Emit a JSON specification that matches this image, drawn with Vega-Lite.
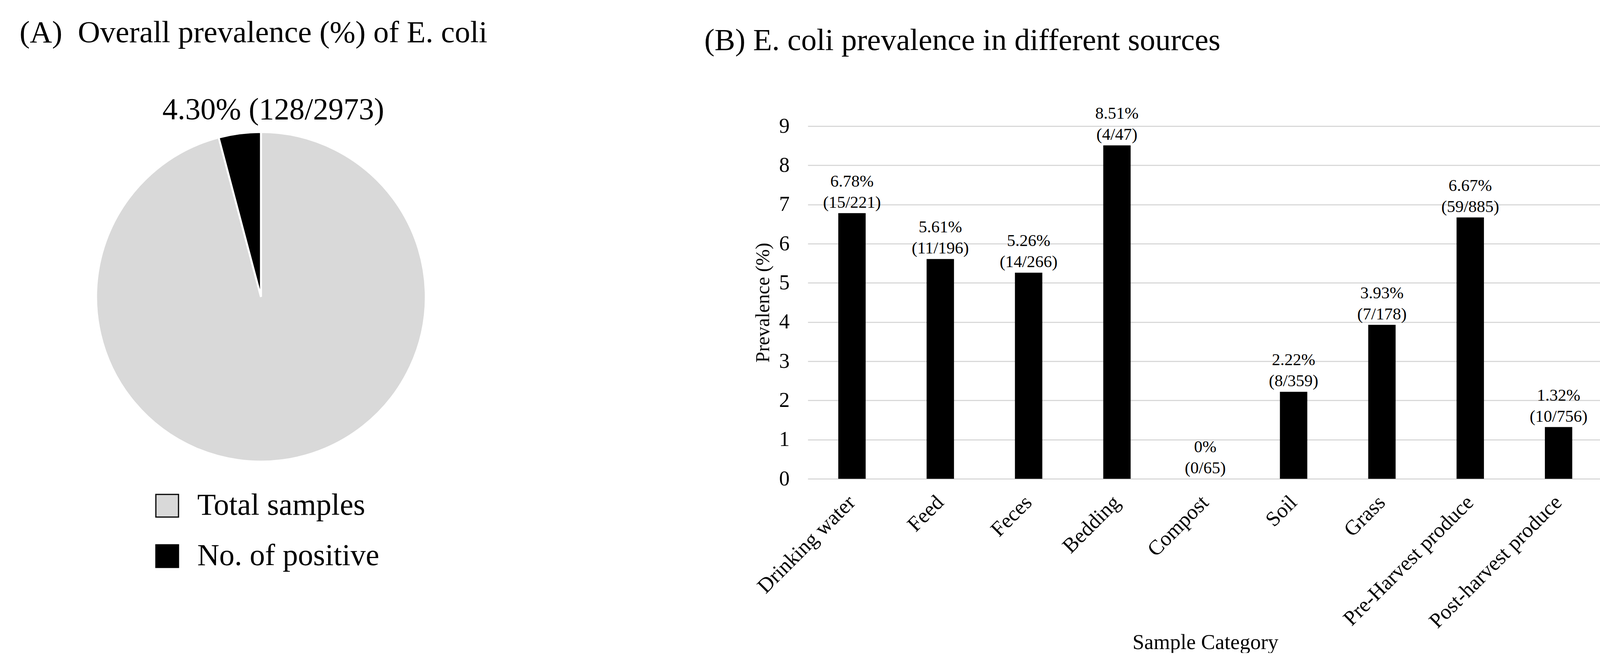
{
  "$schema": "https://vega.github.io/schema/vega-lite/v6.json",
  "background": "white",
  "padding": {"left": 50, "top": 45, "right": 9, "bottom": 0},
  "config": {"font": "Liberation Serif", "view": {"stroke": null}},
  "spacing": 517,
  "hconcat": [
    {
      "width": 1236,
      "height": 874,
      "title": {"text": "(A)\u00a0\u00a0Overall prevalence (%) of E. coli", "anchor": "start", "fontSize": 79, "fontWeight": "normal", "font": "Liberation Serif", "offset": 118, "color": "black"},
      "data": {"values": [
        {"category": "Total samples", "count": 2973, "label": ""},
        {"category": "No. of positive", "count": 128, "label": "4.30% (128/2973)"}
      ]},
      "encoding": {
        "theta": {"field": "count", "type": "quantitative", "stack": true},
        "order": {"field": "count", "type": "quantitative", "sort": "descending"}
      },
      "layer": [
        {
          "mark": {"type": "arc", "outerRadius": 422, "stroke": "white", "strokeWidth": 5},
          "encoding": {
            "fill": {
              "field": "category", "type": "nominal",
              "scale": {"domain": ["Total samples", "No. of positive"], "range": ["#d9d9d9", "#000000"]},
              "legend": {"title": null, "orient": "none", "legendX": 339, "legendY": 933, "direction": "vertical", "symbolType": "square", "symbolSize": 3364, "symbolStrokeColor": "black", "symbolStrokeWidth": 3, "labelFontSize": 78, "labelFont": "Liberation Serif", "labelColor": "black", "labelOffset": 38, "rowPadding": 51, "labelLimit": 0}
            }
          }
        },
        {
          "mark": {"type": "text", "radius": 482, "dx": 94, "fontSize": 78, "align": "center", "baseline": "middle", "color": "black", "font": "Liberation Serif"},
          "encoding": {"text": {"field": "label", "type": "nominal"}}
        }
      ]
    },
    {
      "width": 2035,
      "height": 903,
      "title": {"text": "(B) E. coli prevalence in different sources", "anchor": "start", "fontSize": 79, "fontWeight": "normal", "font": "Liberation Serif", "offset": 125, "dx": -125, "color": "black"},
      "data": {"values": [
        {"category": "Drinking water", "prevalence": 6.78, "label": "6.78%\n(15/221)"},
        {"category": "Feed", "prevalence": 5.61, "label": "5.61%\n(11/196)"},
        {"category": "Feces", "prevalence": 5.26, "label": "5.26%\n(14/266)"},
        {"category": "Bedding", "prevalence": 8.51, "label": "8.51%\n(4/47)"},
        {"category": "Compost", "prevalence": 0, "label": "0%\n(0/65)"},
        {"category": "Soil", "prevalence": 2.22, "label": "2.22%\n(8/359)"},
        {"category": "Grass", "prevalence": 3.93, "label": "3.93%\n(7/178)"},
        {"category": "Pre-Harvest produce", "prevalence": 6.67, "label": "6.67%\n(59/885)"},
        {"category": "Post-harvest produce", "prevalence": 1.32, "label": "1.32%\n(10/756)"}
      ]},
      "encoding": {
        "x": {
          "field": "category", "type": "nominal", "sort": null,
          "scale": {"paddingInner": 0.69, "paddingOuter": 0.345},
          "axis": {"title": "Sample Category", "labelAngle": -45, "labelAlign": "right", "labelBaseline": "middle", "labelFontSize": 54, "labelPadding": 52, "ticks": false, "domain": false, "titleFontSize": 54, "titleFontWeight": "normal", "titleY": 435, "titleBaseline": "alphabetic", "labelColor": "black", "titleColor": "black", "labelLimit": 0, "labelFont": "Liberation Serif", "titleFont": "Liberation Serif"}
        },
        "y": {
          "field": "prevalence", "type": "quantitative",
          "scale": {"domain": [0, 9], "nice": false},
          "axis": {"title": "Prevalence (%)", "values": [0, 1, 2, 3, 4, 5, 6, 7, 8, 9], "grid": true, "gridColor": "#d9d9d9", "gridWidth": 3, "domain": false, "ticks": false, "labelFontSize": 54, "labelPadding": 47, "titleFontSize": 50, "titleFontWeight": "normal", "titlePadding": 16, "labelColor": "black", "titleColor": "black", "labelFont": "Liberation Serif", "titleFont": "Liberation Serif"}
        }
      },
      "layer": [
        {"mark": {"type": "bar", "color": "black"}},
        {
          "mark": {"type": "text", "baseline": "bottom", "dy": -59, "fontSize": 43, "lineBreak": "\n", "lineHeight": 54, "color": "black", "font": "Liberation Serif"},
          "encoding": {"text": {"field": "label", "type": "nominal"}}
        }
      ]
    }
  ]
}
